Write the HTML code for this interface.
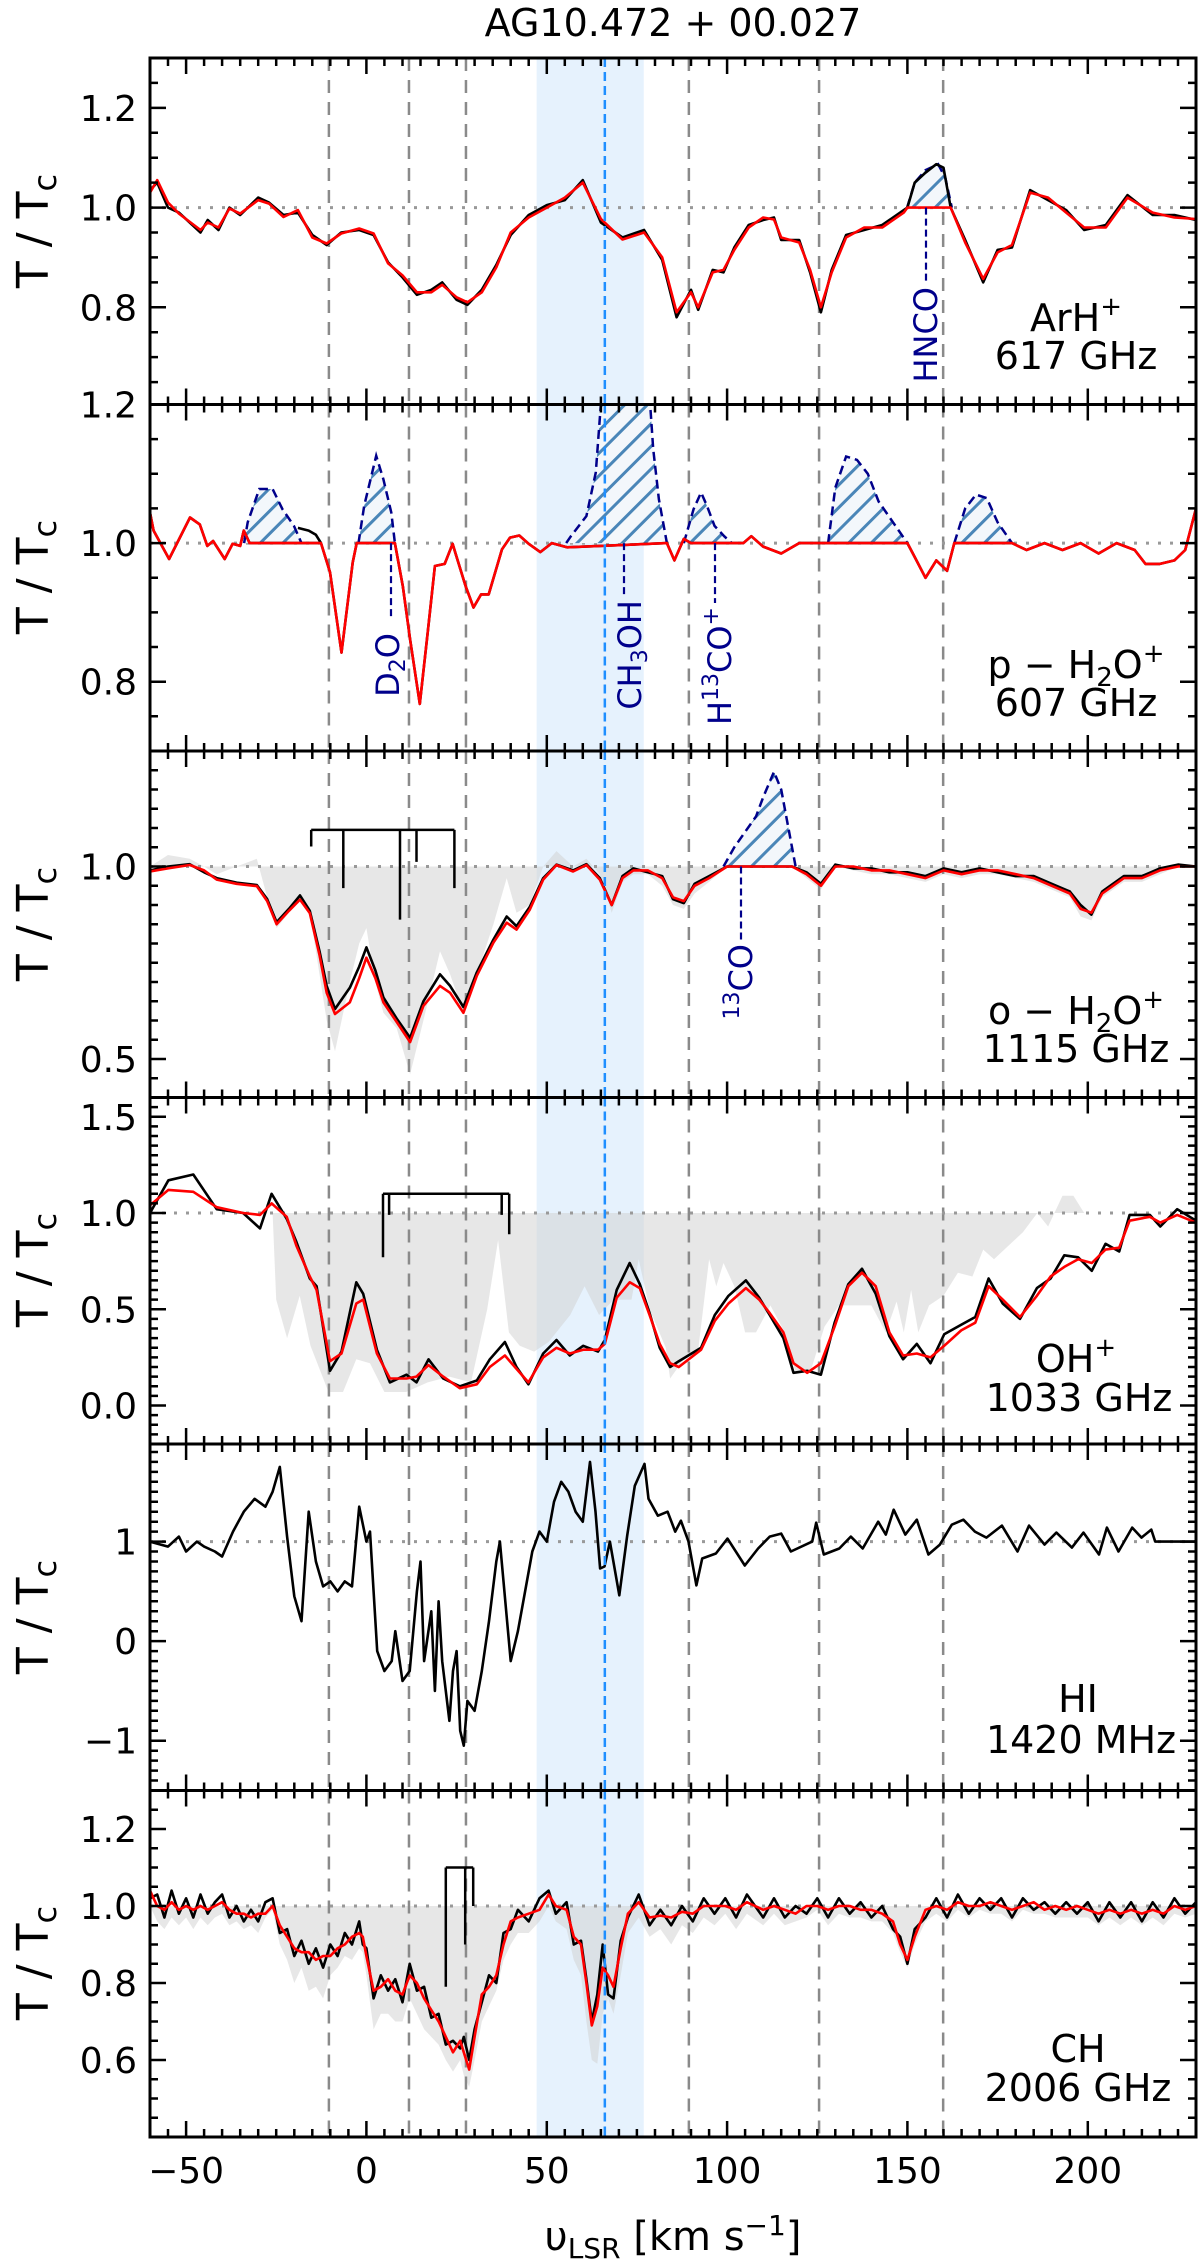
<!DOCTYPE html>
<html>
<head>
<meta charset="utf-8">
<style>
  html,body{margin:0;padding:0;background:#fff;}
  svg{display:block;font-family:"DejaVu Sans","Liberation Sans",sans-serif;}
  .lbl{font-size:38px;fill:#000;}
  .tick{font-size:36px;fill:#000;}
  .mol{font-size:32px;fill:#00008b;}
</style>
</head>
<body>
<svg id="chart" xmlns="http://www.w3.org/2000/svg" width="1200" height="2265" viewBox="0 0 1200 2265">
  <defs>
    <pattern id="hatch" width="16" height="16" patternUnits="userSpaceOnUse" patternTransform="rotate(-45)">
      <rect width="16" height="16" fill="#f3f7fb"/>
      <line x1="0" y1="8" x2="16" y2="8" stroke="#4a86b8" stroke-width="3"/>
    </pattern>
  </defs>
  <g id="plots"></g>
  <text x="673" y="36" text-anchor="middle" style="font-size:38px">AG10.472 + 00.027</text>
  <text class="lbl" style="font-size:44px" text-anchor="middle" transform="translate(48,231) rotate(-90)">T / T<tspan font-size="32" dy="8">c</tspan></text>
  <text class="lbl" style="font-size:44px" text-anchor="middle" transform="translate(48,577) rotate(-90)">T / T<tspan font-size="32" dy="8">c</tspan></text>
  <text class="lbl" style="font-size:44px" text-anchor="middle" transform="translate(48,924) rotate(-90)">T / T<tspan font-size="32" dy="8">c</tspan></text>
  <text class="lbl" style="font-size:44px" text-anchor="middle" transform="translate(48,1270) rotate(-90)">T / T<tspan font-size="32" dy="8">c</tspan></text>
  <text class="lbl" style="font-size:44px" text-anchor="middle" transform="translate(48,1617) rotate(-90)">T / T<tspan font-size="32" dy="8">c</tspan></text>
  <text class="lbl" style="font-size:44px" text-anchor="middle" transform="translate(48,1963) rotate(-90)">T / T<tspan font-size="32" dy="8">c</tspan></text>
  <text class="lbl" text-anchor="middle" x="1076" y="331">ArH<tspan font-size="26" dy="-16">+</tspan></text>
  <text class="lbl" text-anchor="middle" x="1076" y="369">617 GHz</text>
  <text class="lbl" text-anchor="middle" x="1076" y="678">p − H<tspan font-size="26" dy="8">2</tspan><tspan dy="-8">O</tspan><tspan font-size="26" dy="-16">+</tspan></text>
  <text class="lbl" text-anchor="middle" x="1076" y="716">607 GHz</text>
  <text class="lbl" text-anchor="middle" x="1076" y="1024">o − H<tspan font-size="26" dy="8">2</tspan><tspan dy="-8">O</tspan><tspan font-size="26" dy="-16">+</tspan></text>
  <text class="lbl" text-anchor="middle" x="1076" y="1062">1115 GHz</text>
  <text class="lbl" text-anchor="middle" x="1076" y="1372">OH<tspan font-size="26" dy="-16">+</tspan></text>
  <text class="lbl" text-anchor="middle" x="1079" y="1411">1033 GHz</text>
  <text class="lbl" text-anchor="middle" x="1078" y="1712">HI</text>
  <text class="lbl" text-anchor="middle" x="1081" y="1753">1420 MHz</text>
  <text class="lbl" text-anchor="middle" x="1078" y="2062">CH</text>
  <text class="lbl" text-anchor="middle" x="1078" y="2101">2006 GHz</text>
  <text class="mol" text-anchor="end" transform="translate(937,287) rotate(-90)">HNCO</text>
  <text class="mol" text-anchor="end" transform="translate(399,633) rotate(-90)">D<tspan font-size="22" dy="6">2</tspan><tspan dy="-6">O</tspan></text>
  <text class="mol" text-anchor="end" transform="translate(641,600) rotate(-90)">CH<tspan font-size="22" dy="6">3</tspan><tspan dy="-6">OH</tspan></text>
  <text class="mol" text-anchor="end" transform="translate(731,607) rotate(-90)">H<tspan font-size="22" dy="-13">13</tspan><tspan dy="13">CO</tspan><tspan font-size="22" dy="-13">+</tspan></text>
  <text class="mol" text-anchor="end" transform="translate(752,944) rotate(-90)"><tspan font-size="22" dy="-13">13</tspan><tspan dy="13">CO</tspan></text>
  <text text-anchor="middle" x="673" y="2250" style="font-size:40px">υ<tspan font-size="28" dy="8">LSR</tspan><tspan dy="-8">  [km s</tspan><tspan font-size="28" dy="-15">−1</tspan><tspan dy="15">]</tspan></text>
</svg>
<script>
const velArH = [-60,-58,-55,-52,-46,-44,-41,-38,-35,-30,-27,-23,-19,-15,-11,-7,-2,2,6,10,14,18,21,25,28,32,36,40,45,50,55,60,
 65,71,77,82,86,90,92,96,99,102,106,110,113,115,120,123,126,129,133,138,143,149,150,152,155,158,160,162,166,171,175,179,184,189,194,199,205,211,218,224,230];
const fitArH = [1.03,1.055,1.01,0.988,0.955,0.97,0.96,0.998,0.988,1.015,1.008,0.981,0.995,0.94,0.928,0.948,0.958,0.948,0.888,0.864,0.83,0.83,0.845,0.82,0.81,0.83,0.88,0.95,0.98,1.0,1.02,1.05,
 0.977,0.936,0.95,0.90,0.79,0.83,0.80,0.87,0.875,0.915,0.96,0.98,0.976,0.94,0.93,0.875,0.80,0.87,0.94,0.96,0.96,0.99,1.0,1.0,1.0,1.0,1.0,1.0,0.93,0.857,0.91,0.925,1.03,1.02,0.99,0.96,0.96,1.02,0.99,0.98,0.977];
const obsArH = [1.035,1.05,1.0,0.99,0.95,0.975,0.955,1.0,0.985,1.02,1.01,0.985,0.99,0.945,0.925,0.95,0.955,0.945,0.89,0.86,0.825,0.835,0.85,0.815,0.805,0.835,0.885,0.945,0.985,1.005,1.015,1.055,
 0.97,0.94,0.955,0.895,0.78,0.835,0.795,0.875,0.87,0.92,0.965,0.975,0.98,0.935,0.935,0.87,0.79,0.875,0.945,0.955,0.965,0.995,1.0,1.05,1.07,1.087,1.08,1.0,0.935,0.85,0.915,0.92,1.035,1.015,0.995,0.955,0.965,1.025,0.985,0.985,0.975];
const velHNCO = [149.9,152,155,158.5,160.5,162.3];
const valHNCO = [1.0,1.05,1.075,1.087,1.06,1.0];

const velPH2O = [-60,-59,-54.7,-48.9,-46.2,-44.1,-42.5,-39.3,-37.1,-35,-34,-32.4,-12.6,-10.1,-6.9,-3.8,-2.7,7.9,10.1,12.1,
 14.8,17,19,21.7,23.9,24.9,27.5,29.7,31.8,33.9,37.6,39.8,42.4,45,48.2,51.4,55.6,83.3,85.4,88,
 90,104.5,106.7,110,115,120,150,152,155,158,161,163,179,183,188,193,198,203,208,213,216,220,224,227,229,230];
const fitPH2O = [1.044,1.018,0.977,1.037,1.027,0.996,1.003,0.977,0.999,0.996,1.018,1.0,1.0,0.958,0.842,0.972,1.0,1.0,0.938,0.861,
 0.768,0.871,0.967,0.97,0.999,0.982,0.938,0.907,0.926,0.926,0.991,1.008,1.011,0.999,0.987,1.0,0.994,1.0,0.975,1.006,
 1.0,1.0,1.01,0.995,0.985,1.0,1.0,0.98,0.95,0.975,0.96,1.0,1.0,0.99,1.0,0.99,1.0,0.985,1.0,0.99,0.97,0.97,0.975,0.99,1.03,1.05];
const velPH2OObs = [-19,-16,-14,-12.6];
const obsPH2O = [1.022,1.018,1.012,1.0];
const velHatchA = [-33.9,-32.9,-29.7,-26,-23.3,-20.1,-18];
const valHatchA = [1.0,1.03,1.078,1.078,1.049,1.025,1.0];
const velD2O = [-2.2,-0.6,2.7,4.7,6.9,7.9];
const valD2O = [1.0,1.054,1.126,1.092,1.044,1.0];
const velCH3OH = [55.4,56.7,61,63.6,65.7,78,79.5,81.1,83.3];
const valCH3OH = [1.0,1.01,1.039,1.102,1.25,1.25,1.136,1.063,1.0];
const velH13CO = [88,90.7,92.8,94.4,96.5,99.2,101.3];
const valH13CO = [1.0,1.049,1.073,1.054,1.025,1.01,1.0];
const velHatchB = [128,130,133,136,139,142,146,150];
const valHatchB = [1.0,1.08,1.125,1.12,1.1,1.06,1.03,1.0];
const velHatchC = [163,166,169,172,175,179];
const valHatchC = [1.0,1.05,1.07,1.065,1.03,1.0];

const velOH2O = [-60,-55,-49,-45,-41.5,-36,-30.4,-27.5,-24.9,-21.5,
 -18.4,-15.7,-13,-11,-8.7,-4.6,-2,0,2.5,4.7,
 8.4,12.1,15.8,20.4,23.2,26.9,30.6,35.2,38.9,41.6,
 45.3,49,52.7,57.3,61,64.7,68,71,74,78,
 82,85,88,91,95,100,118,122,126,130,
 135,140,145,150,155,160,165,170,175,180,
 185,190,195,198,201,204,210,215,220,225,230];
const fitOH2O = [0.987,0.995,1.004,0.99,0.966,0.955,0.949,0.91,0.85,0.885,
 0.914,0.879,0.77,0.672,0.617,0.647,0.71,0.763,0.71,0.647,
 0.596,0.544,0.638,0.69,0.672,0.62,0.716,0.802,0.854,0.836,
 0.888,0.966,1.004,0.987,1.004,0.966,0.9,0.97,0.99,0.99,
 0.97,0.92,0.91,0.95,0.97,1.0,1.0,0.98,0.95,1.0,
 1.0,0.99,0.99,0.98,0.97,0.99,0.98,0.99,0.99,0.98,
 0.97,0.95,0.93,0.89,0.88,0.93,0.97,0.97,0.99,1.0,1.0];
const obsOH2O = [0.99,1.0,1.006,0.985,0.97,0.958,0.952,0.915,0.855,0.89,
 0.925,0.885,0.78,0.69,0.63,0.685,0.74,0.79,0.73,0.66,
 0.605,0.555,0.65,0.72,0.69,0.635,0.725,0.81,0.87,0.845,
 0.895,0.97,1.005,0.99,1.006,0.97,0.9,0.975,0.995,0.985,
 0.975,0.915,0.905,0.955,0.975,1.0,1.0,0.985,0.955,1.005,
 0.995,0.995,0.985,0.985,0.975,0.995,0.985,0.995,0.985,0.975,
 0.975,0.955,0.935,0.9,0.875,0.935,0.975,0.975,0.995,1.005,1.0];
const refOH2O = [1.0,1.03,1.02,1.0,0.98,1.0,1.02,0.92,0.84,0.88,
 0.91,0.88,0.72,0.6,0.52,0.7,0.8,0.84,0.7,0.62,
 0.58,0.46,0.6,0.78,0.72,0.62,0.72,0.85,0.97,0.88,
 0.9,1.0,1.04,1.0,1.02,0.98,0.88,0.96,0.98,0.98,
 0.95,0.9,0.89,0.93,0.96,1.0,1.0,0.97,0.94,1.0,
 0.99,0.98,0.98,0.97,0.96,0.98,0.97,0.98,0.98,0.97,
 0.96,0.94,0.92,0.87,0.86,0.92,0.96,0.96,0.98,1.0,1.0];
const vel13CO = [99,102,105,108,110,113,115,117,119];
const val13CO = [1.0,1.05,1.09,1.13,1.18,1.246,1.2,1.1,1.0];
const hfsVelOH2O = [-15.3,-6.4,9.3,13.9,24.4];
const hfsEndOH2O = [1.052,0.944,0.862,1.012,0.944];
const hfsTopOH2O = [1.095];

const velOH = [-60,-54.9,-48,-41.5,-34.2,-29.5,-26.3,-22.1,-19.4,-15.7,
 -13.8,-10.1,-6.9,-2.8,-0.9,2.9,6.5,11.1,13.9,17.2,
 21.3,25.9,30.6,34.2,38.4,41.6,44.9,49,52.7,56.4,
 60.1,64.2,66.1,69.4,73,75.8,78.5,81.3,84.2,86.6,
 92.8,96.6,100.4,105.2,108.9,111.8,115.6,118.4,122.2,126,
 129.8,133.6,137.4,141.2,145,148.8,152.6,156.4,160.2,164.9,
 168.8,172.5,176.4,181.2,185.9,189.7,193.5,197.3,201.1,204.9,
 208.7,211.6,217.2,220.1,224.8,230];
const fitOH = [1.04,1.12,1.11,1.03,1.0,0.99,1.05,0.98,0.83,0.67,
 0.6,0.23,0.27,0.53,0.55,0.27,0.14,0.14,0.15,0.21,
 0.15,0.09,0.11,0.2,0.26,0.19,0.12,0.25,0.3,0.27,
 0.29,0.29,0.32,0.56,0.64,0.61,0.47,0.32,0.22,0.2,
 0.29,0.44,0.53,0.61,0.55,0.48,0.38,0.22,0.17,0.22,
 0.41,0.62,0.69,0.62,0.38,0.26,0.27,0.25,0.31,0.39,
 0.43,0.62,0.55,0.46,0.57,0.67,0.72,0.76,0.74,0.81,
 0.82,0.96,0.98,0.95,0.99,0.95];
const obsOH = [1.0,1.17,1.2,1.02,1.0,0.92,1.1,0.97,0.85,0.66,
 0.62,0.18,0.28,0.64,0.58,0.29,0.12,0.16,0.12,0.24,
 0.14,0.1,0.13,0.24,0.33,0.2,0.11,0.27,0.34,0.26,
 0.31,0.28,0.34,0.6,0.74,0.63,0.48,0.3,0.2,0.23,
 0.3,0.47,0.57,0.65,0.56,0.47,0.35,0.17,0.18,0.16,
 0.43,0.63,0.71,0.58,0.36,0.24,0.32,0.22,0.37,0.42,
 0.46,0.66,0.53,0.45,0.61,0.66,0.78,0.77,0.7,0.84,
 0.8,0.99,0.99,0.93,1.02,0.96];
const velOHRef = [-26,-25,-22,-18.5,-15.5,-10.5,-6.5,-2.8,1,5,
 11,17,23,29,33.5,36.5,39.5,42.5,46.5,50.5,
 56.5,60.5,64.5,68.5,73.5,75.5,78.5,83,84.2,88,
 92,95,97,99,102,105,108,112,116,119,
 123,127,131,136,140,144,147,149,151,153,
 156,160,164,168,171,174,178,182,186,189,
 193,196,199,200];
const refOH = [1.0,0.55,0.35,0.57,0.31,0.07,0.07,0.24,0.22,0.07,
 0.07,0.12,0.15,0.12,0.5,0.86,0.38,0.31,0.28,0.33,
 0.47,0.62,0.47,0.55,0.55,0.76,0.5,0.3,0.14,0.24,
 0.29,0.76,0.62,0.74,0.62,0.38,0.38,0.52,0.38,0.17,
 0.17,0.41,0.52,0.52,0.52,0.38,0.54,0.38,0.6,0.38,
 0.52,0.57,0.69,0.67,0.81,0.76,0.83,0.9,1.0,0.93,
 1.09,1.09,1.0,1.0];
const hfsVelOH = [4.6,6.3,37.5,39.6];
const hfsEndOH = [0.77,0.99,0.99,0.89];
const hfsTopOH = [1.10];

const velHI = [-60,-55,-52,-50,-47,-45,-42,-40,-37,-34,
 -31,-28,-26,-24,-22,-20,-18,-16,-14,-12,
 -10,-8,-6,-4,-2,0,1,2,3,5,
 7,8,10,12,14,15,16,18,19,20,
 21,23,24,25,26,27,28,30,32,34,
 36,37,38,40,42,44,46,48,50,52,
 54,56,58,60,62,63.5,64.8,66,67.5,70.1,
 72.3,74.4,77.1,78.2,80.8,83.5,85.6,87.2,89.3,91.5,
 93.1,96.9,100.1,104.9,108.6,111.8,115,117.7,123.6,124.7,
 126.8,131.1,134.3,137.6,141.9,144,146.2,149.4,152.6,155.8,
 159,162.3,165.5,168.7,171.9,176.2,180.5,183.7,188,191.3,
 195.6,198.8,203.1,205.3,208.5,212.3,214.9,217.6,218.7,230];
const obsHI = [1.0,0.95,1.05,0.9,1.0,0.95,0.9,0.85,1.1,1.3,
 1.43,1.35,1.5,1.75,1.05,0.45,0.2,1.3,0.8,0.55,
 0.6,0.5,0.6,0.55,1.35,1.0,1.1,0.5,-0.1,-0.3,
 -0.2,0.1,-0.4,-0.3,0.5,0.8,-0.2,0.3,-0.5,0.4,
 -0.2,-0.8,-0.3,-0.1,-0.9,-1.05,-0.6,-0.7,-0.3,0.2,
 0.8,1.0,0.6,-0.2,0.1,0.5,0.9,1.1,1.0,1.4,
 1.6,1.5,1.3,1.2,1.8,1.3,0.73,0.75,1.0,0.46,
 1.06,1.56,1.78,1.43,1.26,1.3,1.1,1.21,1.0,0.56,
 0.83,0.88,1.03,0.76,0.93,1.05,1.08,0.9,1.0,1.19,
 0.87,0.93,1.05,0.93,1.2,1.07,1.32,1.07,1.22,0.87,
 0.97,1.17,1.22,1.1,1.04,1.16,0.9,1.16,0.97,1.09,
 0.94,1.09,0.87,1.14,0.9,1.14,1.04,1.12,1.0,1.0];

const velCH = [-60,-58,-56,-54,-52,-50,-48,-46,-44,-42,
 -40,-38,-36,-34,-32,-30,-28,-26,-24,-22,
 -20,-18,-16,-14,-12,-10,-8,-6,-4,-2,
 -1,0,2,4,6,8,10,12,14,16,
 18,20,22,24,26,27,28.5,30,32,34,
 36,38,40,42,45,48,50.5,52.5,55.5,57.5,
 59.5,61,62.5,64,65.5,67,68.5,70.5,72.5,75.5,
 78.5,81.5,84.5,87.5,90.5,93.5,96.5,99.5,102.5,105.5,
 110,113,116,119,122,125,128,131,134,137,
 140,143,146,148,150,152,155,158,161,164,
 167,170,173,176,179,182,185,188,191,194,
 197,200,203,206,209,212,215,218,221,224,
 227,230];
const fitCH = [1.04,1.0,0.99,1.01,0.99,1.0,0.99,1.0,0.99,1.0,
 1.01,0.99,0.98,0.98,0.97,0.98,0.98,1.0,0.95,0.92,
 0.89,0.88,0.88,0.86,0.87,0.87,0.89,0.9,0.92,0.93,
 0.92,0.87,0.78,0.79,0.81,0.78,0.77,0.82,0.8,0.76,
 0.73,0.7,0.66,0.62,0.65,0.62,0.575,0.66,0.77,0.79,
 0.82,0.9,0.96,0.97,0.98,0.99,1.03,1.0,0.99,0.92,
 0.9,0.8,0.69,0.74,0.84,0.82,0.79,0.89,0.98,1.01,
 0.97,0.975,0.97,0.985,0.98,1.0,1.0,1.0,0.99,1.01,
 0.99,1.0,0.99,0.98,1.0,1.0,0.99,1.0,1.0,0.99,
 0.99,0.98,0.96,0.9,0.86,0.92,0.99,1.0,0.99,1.01,
 1.0,1.0,1.01,1.0,0.99,1.0,1.01,0.99,1.0,0.99,
 1.0,0.99,0.98,0.99,0.98,0.99,0.98,0.99,0.98,1.0,
 0.99,1.0];
const obsCH = [1.02,1.03,0.97,1.04,0.98,1.02,0.97,1.03,0.98,1.01,
 1.03,0.97,1.0,0.96,0.99,0.96,1.01,1.02,0.93,0.94,
 0.87,0.91,0.85,0.89,0.84,0.9,0.87,0.93,0.9,0.96,
 0.9,0.89,0.76,0.82,0.78,0.81,0.75,0.85,0.78,0.79,
 0.71,0.72,0.64,0.65,0.63,0.66,0.6,0.68,0.75,0.82,
 0.8,0.93,0.94,0.99,0.96,1.02,1.04,0.98,1.01,0.9,
 0.91,0.81,0.7,0.77,0.9,0.77,0.76,0.91,0.97,1.03,
 0.95,0.99,0.95,1.0,0.96,1.02,0.98,1.02,0.97,1.03,
 0.97,1.02,0.97,1.0,0.98,1.02,0.97,1.02,0.98,1.01,
 0.97,1.0,0.94,0.92,0.85,0.94,0.97,1.02,0.97,1.03,
 0.98,1.02,0.99,1.02,0.97,1.02,0.99,1.01,0.98,1.01,
 0.98,1.01,0.96,1.01,0.97,1.01,0.96,1.01,0.97,1.02,
 0.98,1.01];
const refCH = [1.0,0.96,0.94,0.97,0.95,0.97,0.94,0.97,0.95,0.97,
 0.98,0.95,0.96,0.94,0.95,0.93,0.97,0.99,0.9,0.86,
 0.8,0.84,0.78,0.79,0.76,0.82,0.84,0.87,0.86,0.89,
 0.88,0.82,0.68,0.72,0.72,0.7,0.7,0.76,0.72,0.68,
 0.66,0.64,0.6,0.57,0.6,0.56,0.53,0.6,0.7,0.74,
 0.78,0.86,0.9,0.93,0.93,0.96,1.0,0.96,0.94,0.86,
 0.82,0.7,0.6,0.59,0.72,0.76,0.72,0.82,0.93,0.97,
 0.92,0.94,0.9,0.95,0.93,0.97,0.95,0.98,0.94,0.98,
 0.95,0.98,0.95,0.96,0.97,0.99,0.95,0.98,0.97,0.97,
 0.96,0.96,0.93,0.88,0.84,0.9,0.96,0.98,0.96,0.99,
 0.97,0.99,0.98,0.98,0.96,0.99,0.98,0.98,0.97,0.97,
 0.97,0.97,0.95,0.97,0.95,0.97,0.95,0.97,0.95,0.98,
 0.97,0.98];
const hfsVelCH = [22,27.4,29.6];
const hfsEndCH = [0.79,0.9,1.0];
const hfsTopCH = [1.10];

const compVel = [-10.4,11.8,27.6,89.4,125.5,159.9];
const sourceVel = [66.1];
const bandVel = [47.2,76.9];

const xMajor = [-50,0,50,100,150,200];
const yLo = [0.605,0.7,0.4,-0.2,-1.5,0.4];
const yHi = [1.3,1.2,1.3,1.6,1.98,1.3];
const yMajor = [[0.8,1.0,1.2],[0.8,1.0,1.2],[0.5,1.0],[0.0,0.5,1.0,1.5],[-1,0,1],[0.6,0.8,1.0,1.2]];
const yMinorStep = [0.05,0.05,0.05,0.05,0.1,0.05];
const yLabelDigits = [1,1,1,1,0,1];

const NS = 'http://www.w3.org/2000/svg';
const root = document.getElementById('plots');
const XMIN = -60, XMAX = 230, PL = 150, PR = 1196, T0 = 58, PH = 346.5;
function X(v){ return PL + (v - XMIN) / (XMAX - XMIN) * (PR - PL); }
function mk(tag, attrs, parent){
  const e = document.createElementNS(NS, tag);
  for (const k in attrs) e.setAttribute(k, attrs[k]);
  parent.appendChild(e);
  return e;
}
function fmt(v, d){ const s = Math.abs(v).toFixed(d); return (v < -1e-9 ? '\u2212' : '') + s; }
function linePath(vs, ys, Y){
  let d = '';
  for (let i = 0; i < vs.length; i++) d += (i ? 'L' : 'M') + X(vs[i]).toFixed(1) + ' ' + Y(ys[i]).toFixed(1);
  return d;
}
function fillPath(vs, ys, Y, base){
  let d = 'M' + X(vs[0]).toFixed(1) + ' ' + Y(base).toFixed(1);
  for (let i = 0; i < vs.length; i++) d += 'L' + X(vs[i]).toFixed(1) + ' ' + Y(ys[i]).toFixed(1);
  d += 'L' + X(vs[vs.length-1]).toFixed(1) + ' ' + Y(base).toFixed(1) + 'Z';
  return d;
}

const panelNames = ['arh','ph2o','oh2o','oh','hi','ch'];
const panels = [];
for (let i = 0; i < 6; i++){
  const top = T0 + i * PH;
  const lo = yLo[i], hi = yHi[i];
  const Y = v => top + (hi - v) / (hi - lo) * PH;
  const g = mk('g', {}, root);
  
  
  const cp = mk('clipPath', {id: 'clip' + i}, g);
  mk('rect', {x: PL, y: top, width: PR - PL, height: PH}, cp);
  const inner = mk('g', {'clip-path': 'url(#clip' + i + ')'}, g);
  
  
  const band = mk('rect', {x: X(bandVel[0]), y: top, width: X(bandVel[1]) - X(bandVel[0]), height: PH, fill: '#ddeefc', opacity: 0.75}, inner);
  
  
  panels.push({top, Y, g, inner});
}

function grayFill(p, vs, ys){
  const e = mk('path', {d: fillPath(vs, ys, p.Y, 1.0), fill: '#cfcfcf', 'fill-opacity': 0.5, stroke: 'none'}, p.inner);
  
  
}
grayFill(panels[2], velOH2O, refOH2O);
grayFill(panels[3], velOHRef, refOH);
grayFill(panels[5], velCH, refCH);

for (let i = 0; i < 6; i++){
  const p = panels[i];
  for (const cv of compVel){
    const l = mk('line', {x1: X(cv), x2: X(cv), y1: p.top, y2: p.top + PH, stroke: '#8a8a8a', 'stroke-width': 2.5, 'stroke-dasharray': '13 9'}, p.inner);
    
    
  }
  const h = mk('line', {x1: PL, x2: PR, y1: p.Y(1.0), y2: p.Y(1.0), stroke: '#999', 'stroke-width': 3, 'stroke-dasharray': '3 9'}, p.inner);
  
  
}

function hatch(p, vs, ys, name){
  const f = mk('path', {d: fillPath(vs, ys, p.Y, 1.0), fill: 'url(#hatch)', stroke: 'none'}, p.inner);
  
  
  const o = mk('path', {d: linePath(vs, ys, p.Y), fill: 'none', stroke: '#00008b', 'stroke-width': 2.5, 'stroke-dasharray': '9 5'}, p.inner);
  
  
}
hatch(panels[0], velHNCO, valHNCO, 'hnco');
hatch(panels[1], velHatchA, valHatchA, 'contaminant-a');
hatch(panels[1], velD2O, valD2O, 'd2o');
hatch(panels[1], velCH3OH, valCH3OH, 'ch3oh');
hatch(panels[1], velH13CO, valH13CO, 'h13co');
hatch(panels[1], velHatchB, valHatchB, 'contaminant-b');
hatch(panels[1], velHatchC, valHatchC, 'contaminant-c');
hatch(panels[2], vel13CO, val13CO, '13co');

function series(p, vs, ys, color, name, w){
  const e = mk('path', {d: linePath(vs, ys, p.Y), fill: 'none', stroke: color, 'stroke-width': w || 2.6, 'stroke-linejoin': 'round'}, p.inner);
  
  
}
series(panels[0], velArH, obsArH, '#000', 'observed-spectrum-arh');
series(panels[0], velArH, fitArH, '#ff0000', 'model-fit-arh');
series(panels[1], velPH2O, fitPH2O, '#000', 'observed-spectrum-ph2o');
series(panels[1], velPH2OObs, obsPH2O, '#000', 'observed-spectrum-ph2o-segment');
series(panels[1], velPH2O, fitPH2O, '#ff0000', 'model-fit-ph2o');
series(panels[2], velOH2O, obsOH2O, '#000', 'observed-spectrum-oh2o');
series(panels[2], velOH2O, fitOH2O, '#ff0000', 'model-fit-oh2o');
series(panels[3], velOH, obsOH, '#000', 'observed-spectrum-oh');
series(panels[3], velOH, fitOH, '#ff0000', 'model-fit-oh');
series(panels[4], velHI, obsHI, '#000', 'observed-spectrum-hi');
series(panels[5], velCH, obsCH, '#000', 'observed-spectrum-ch');
series(panels[5], velCH, fitCH, '#ff0000', 'model-fit-ch');

for (let i = 0; i < 6; i++){
  const p = panels[i];
  const s = mk('line', {x1: X(sourceVel[0]), x2: X(sourceVel[0]), y1: p.top, y2: p.top + PH, stroke: '#1f8fff', 'stroke-width': 2.5, 'stroke-dasharray': '9 5'}, p.inner);
  
  
}

function marker(p, x, yEnd, name){
  const e = mk('line', {x1: x, x2: x, y1: p.Y(1.0), y2: yEnd, stroke: '#00008b', 'stroke-width': 2.2, 'stroke-dasharray': '7 4'}, p.g);
  
  
}
marker(panels[0], 926, 282, 'hnco-marker');
marker(panels[1], 391, 620, 'd2o-marker');
marker(panels[1], 624, 597, 'ch3oh-marker');
marker(panels[1], 715, 603, 'h13co-marker');
marker(panels[2], 741, 940, '13co-marker');

function bracket(p, vs, ends, top, name){
  let d = 'M' + X(vs[0]).toFixed(1) + ' ' + p.Y(top[0]).toFixed(1) + 'L' + X(vs[vs.length-1]).toFixed(1) + ' ' + p.Y(top[0]).toFixed(1);
  for (let i = 0; i < vs.length; i++) d += 'M' + X(vs[i]).toFixed(1) + ' ' + p.Y(top[0]).toFixed(1) + 'L' + X(vs[i]).toFixed(1) + ' ' + p.Y(ends[i]).toFixed(1);
  const e = mk('path', {d: d, fill: 'none', stroke: '#000', 'stroke-width': 2.5}, p.g);
  
  
}
bracket(panels[2], hfsVelOH2O, hfsEndOH2O, hfsTopOH2O, 'hyperfine-bracket-oh2o');
bracket(panels[3], hfsVelOH, hfsEndOH, hfsTopOH, 'hyperfine-bracket-oh');
bracket(panels[5], hfsVelCH, hfsEndCH, hfsTopCH, 'hyperfine-bracket-ch');

for (let i = 0; i < 6; i++){
  const p = panels[i];
  let d = '';
  for (let v = XMIN; v <= XMAX; v += 5){
    const isMaj = xMajor.indexOf(v) >= 0;
    const len = isMaj ? 16 : 8;
    const x = X(v).toFixed(1);
    d += 'M' + x + ' ' + (p.top + PH) + 'l0 ' + (-len) + 'M' + x + ' ' + p.top + 'l0 ' + len;
  }
  const lo = yLo[i], hi = yHi[i], st = yMinorStep[i];
  for (let k = Math.ceil(lo / st - 1e-6); k * st <= hi + 1e-6; k++){
    const v = k * st;
    const isMaj = yMajor[i].some(m => Math.abs(m - v) < 1e-6);
    const len = isMaj ? 16 : 8;
    const y = p.Y(v).toFixed(1);
    d += 'M' + PL + ' ' + y + 'l' + len + ' 0M' + PR + ' ' + y + 'l' + (-len) + ' 0';
  }
  const t = mk('path', {d: d, stroke: '#000', 'stroke-width': 2.5, fill: 'none'}, p.g);
  
  
  const fr = mk('rect', {x: PL, y: p.top, width: PR - PL, height: PH, fill: 'none', stroke: '#000', 'stroke-width': 3}, p.g);
  
  
  for (const m of yMajor[i]){
    const tl = mk('text', {x: 137, y: p.Y(m) + 13, 'text-anchor': 'end', class: 'tick'}, p.g);
    tl.textContent = fmt(m, yLabelDigits[i]);
    
    
  }
}
for (const v of xMajor){
  const tl = mk('text', {x: X(v), y: 2183, 'text-anchor': 'middle', class: 'tick'}, root);
  tl.textContent = fmt(v, 0);
  
  
}
</script>
</body>
</html>
